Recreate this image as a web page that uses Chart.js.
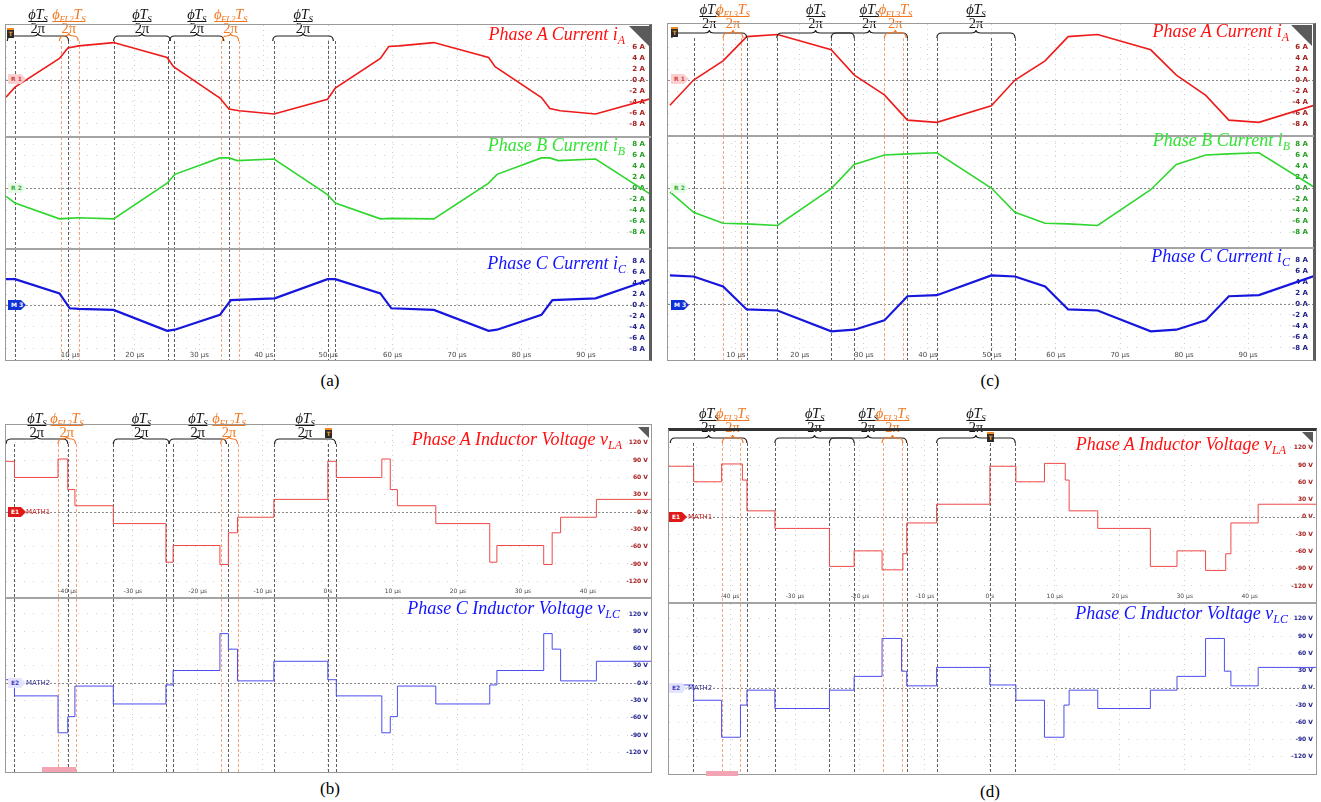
<!DOCTYPE html>
<html><head><meta charset="utf-8">
<title>Phase currents and inductor voltages</title>
<script src="https://cdn.jsdelivr.net/npm/chart.js@4.4.1/dist/chart.umd.min.js"></script>
<style>
html,body{margin:0;padding:0;background:#fff}
body{width:1321px;height:802px;position:relative;overflow:hidden;font-family:"Liberation Serif","Times New Roman",serif}
.sub{position:absolute}
.sub canvas{display:block}
.frame{position:absolute;box-sizing:border-box;border:1px solid #9a9a9a;pointer-events:none}
.hl{position:absolute;height:2px;background:#a4a4a4}
.ttl{position:absolute;font-style:italic;font-size:18px;line-height:18px;white-space:nowrap}
.ttl sub{font-size:12px;vertical-align:-4px;line-height:0}
.frac{position:absolute;display:flex;flex-direction:column;align-items:center;transform:translateX(-50%);font-size:14.5px;white-space:nowrap}
.frac .num{font-style:italic;border-bottom:1px solid currentColor;line-height:12px;padding:0 0 1px;letter-spacing:-0.3px}
.frac .den{line-height:12px}
.frac sub{font-size:9px;vertical-align:-3px;line-height:0}
.blk{color:#151515}.org{color:#f07820}
.cap{position:absolute;font-size:17px;transform:translateX(-50%)}
.tag{position:absolute;font:bold 6px "DejaVu Sans",sans-serif;line-height:10px;height:10px;padding-left:3px;width:15px;clip-path:polygon(0 0,72% 0,100% 50%,72% 100%,0 100%)}
.tname{position:absolute;font:7px "DejaVu Sans",sans-serif;line-height:9px}
.trig{position:absolute;width:7px;height:8px;background:#2a2a2a;color:#f0a030;font:bold 6px "DejaVu Sans",sans-serif;text-align:center;line-height:8px;border-top:2px solid #f08a20}
.corner{position:absolute;width:0;height:0;border-top:21px solid #5a5a5a;border-left:21px solid transparent}
.pink{position:absolute;height:5px;background:#f3a4b4}
</style></head><body>
<script>
// ================= DATA (time in µs, current in A, voltage in V) =================
// Panel (a): phase currents
const A_T_IA = [0,1.4,8.3,9.6,11.3,16.7,25.0,26.0,33.2,34.6,36.2,41.6,49.9,51.1,58.1,59.4,61.0,66.4,74.9,75.9,83.1,84.4,86.0,91.5,100.1];
const A_IA   = [-3.15,-1.3,3.9,5.8,6.2,6.8,4.1,2.4,-3.3,-5.3,-5.6,-6.2,-3.5,-1.5,3.9,6.1,6.2,6.8,4.1,2.4,-3.2,-5.2,-5.6,-6.2,-3.4];
const A_T_IB = [0,1.4,8.3,9.6,11.3,16.7,25.0,26.2,33.2,34.6,35.9,41.6,49.9,51.1,58.1,59.8,66.4,74.9,76.2,83.1,84.4,85.7,91.5,100.1];
const A_IB   = [-1.5,-2.7,-5.6,-5.5,-5.4,-5.6,0.9,2.5,5.5,5.5,5.0,5.3,-1.2,-2.7,-5.6,-5.5,-5.6,0.9,2.5,5.5,5.5,5.0,5.3,-1.2];
const A_T_IC = [0,1.4,8.3,9.9,11.3,16.7,25.0,26.2,33.2,34.9,41.7,49.9,51.1,58.1,59.8,66.4,74.9,76.2,83.1,84.8,91.5,100.1];
const A_IC   = [4.7,4.7,2.1,-0.6,-0.7,-0.9,-4.7,-4.5,-1.8,0.9,1.2,4.7,4.7,2.1,-0.6,-0.9,-4.7,-4.5,-1.8,0.9,1.2,4.7];
const A_VL_BLACK  = [1.4,9.6,16.7,25.1,26.0,34.6,41.6,49.9,51.1];
const A_VL_ORANGE = [8.5,11.3,33.4,36.2];
const A_BRACE_K = [[0.2,9.7],[16.7,25.5],[25.4,33.8],[41.4,50.8]];
const A_BRACE_O = [[8.3,11.2],[33.6,36.1]];

// Panel (c): phase currents
const C_T  = [-0.3,3.4,8.0,11.7,16.5,24.9,28.5,33.2,36.8,41.4,49.9,53.6,58.3,61.9,66.5,74.8,78.8,83.4,87.0,91.7,100.3];
const C_IA = [-4.6,0,3.5,7.9,8.3,5.5,0.9,-2.7,-7.3,-7.7,-4.7,0,3.5,7.9,8.3,5.5,0.9,-2.8,-7.3,-7.7,-4.6];
const C_IB = [-0.7,-4.4,-6.4,-6.5,-6.8,-0.1,4.3,6.0,6.2,6.4,0,-4.4,-6.4,-6.5,-6.8,-0.3,4.3,6.0,6.2,6.4,0.2];
const C_IC = [5.2,5.0,3.2,-1.0,-1.2,-5.0,-4.7,-3.0,1.4,1.6,5.2,5.0,3.2,-1.0,-1.2,-5.0,-4.7,-3.0,1.4,1.6,5.1];
const C_VL_BLACK  = [3.4,11.7,16.5,24.9,28.5,36.8,41.4,49.9,53.6];
const C_VL_ORANGE = [8.0,10.8,33.2,36.1];
const C_BRACE_K = [[0,11.7],[16.4,28.5],[24.9,36.8],[41.4,53.6]];
const C_BRACE_O = [[8.0,11.1],[33.2,36.6]];

// Panel (b): inductor voltages (step levels start at each time)
const B_T_V = [-49.5,-48.2,-41.5,-40.0,-38.9,-33.0,-24.9,-23.8,-16.6,-15.3,-13.9,-8.3,0,1.3,8.3,9.6,10.7,16.6,24.9,26.0,33.2,34.5,35.8,41.3,49.7];
const B_VA  = [88,60,92,39,11,-20,-87,-58,-91,-36,-9,22,88,60,92,39,11,-20,-87,-58,-91,-36,-9,22,22];
const B_VC  = [6,-22,-86,-58,-5,-36,-3,22,86,59,4,38,6,-22,-86,-58,-5,-36,-3,22,86,59,4,38,38];
const B_VL_BLACK  = [-48.2,-40.0,-33.0,-24.9,-23.8,-15.3,-8.3,0,1.2];
const B_VL_ORANGE = [-41.5,-38.8,-16.5,-13.8];
const B_BRACE_K = [[-49.5,-40.0],[-33.0,-24.4],[-24.4,-15.6],[-8.2,1.2]];
const B_BRACE_O = [[-41.5,-38.8],[-16.5,-13.9]];

// Panel (d): inductor voltages
const D_T_VA = [-49.4,-45.6,-41.3,-38.1,-37.4,-33.1,-24.7,-20.9,-16.6,-13.4,-12.8,-8.2,0,4.0,8.4,11.6,12.2,16.6,24.7,28.8,33.2,36.3,37.1,41.3,50.2];
const D_VA   = [88,61,92,64,10.5,-20,-86,-59,-92,-64,-10.5,22,88,61,93,64,10.5,-20,-86,-59,-93,-64,-10.5,22,22];
const D_T_VC = [-49.4,-45.6,-41.3,-38.4,-37.4,-33.1,-24.7,-20.9,-16.6,-13.6,-12.8,-8.2,0,4.0,8.4,11.4,12.2,16.6,24.7,28.8,33.2,36.1,37.1,41.3,50.2];
const D_VC   = [5,-21.6,-86,-30,-4,-36,-4,20,86,29,3.5,35.6,5,-21.6,-86,-30,-4,-36,-4,20,86,29,3.5,35.6,35.6];
const D_VL_BLACK  = [-45.7,-37.4,-33.1,-24.7,-20.9,-12.8,-8.2,0,3.9];
const D_VL_ORANGE = [-41.3,-38.4,-16.5,-13.6];
const D_BRACE_K = [[-49.2,-37.4],[-33.1,-20.9],[-24.7,-12.8],[-8.2,3.9]];
const D_BRACE_O = [[-41.2,-38.0],[-16.6,-13.4]];

// Tick labels
const TICK_IA = [-8,-6,-4,-2,0,2,4,6];
const TICK_I  = [-8,-6,-4,-2,0,2,4,6,8];
const TICK_V  = [-120,-90,-60,-30,0,30,60,90,120];
const XTICK_AC = [10,20,30,40,50,60,70,80,90];
const XTICK_BD = [-40,-30,-20,-10,0,10,20,30,40];

// ================= DRAWING =================
Chart.defaults.font.family = 'DejaVu Sans';

function drawBrace(ctx,x1,x2,yb){
  const xm=(x1+x2)/2, r=Math.min(5,(x2-x1)/4);
  ctx.beginPath();
  ctx.moveTo(x1,yb+5);
  ctx.quadraticCurveTo(x1,yb,x1+r,yb);
  ctx.lineTo(xm-r,yb);
  ctx.quadraticCurveTo(xm,yb,xm,yb-3);
  ctx.quadraticCurveTo(xm,yb,xm+r,yb);
  ctx.lineTo(x2-r,yb);
  ctx.quadraticCurveTo(x2,yb,x2,yb+5);
  ctx.stroke();
}

const marksPlugin={
  id:'marks',
  beforeDatasetsDraw(chart,args,o){
    const {ctx,chartArea:a,scales:{x,y}}=chart;
    ctx.save();
    ctx.lineWidth=1;
    const y0=Math.round(y.getPixelForValue(0))+0.5;
    ctx.strokeStyle='#8a8a8a'; ctx.setLineDash([2,2]);
    ctx.beginPath(); ctx.moveTo(a.left,y0); ctx.lineTo(a.right,y0); ctx.stroke();
    ctx.setLineDash([3,2]);
    const top=a.top+(o.vTop||0);
    const vl=(arr,col)=>{ctx.strokeStyle=col;(arr||[]).forEach(v=>{const px=Math.round(x.getPixelForValue(v))+0.5;ctx.beginPath();ctx.moveTo(px,top);ctx.lineTo(px,chart.height);ctx.stroke();});};
    vl(o.black,'#5e5e5e'); vl(o.orange,'#f4a57c');
    ctx.restore();
  },
  afterDatasetsDraw(chart,args,o){
    if(!o.bk) return;
    const {ctx,chartArea:a,scales:{x}}=chart;
    const yb=a.top+o.by;
    ctx.save(); ctx.lineWidth=1.2; ctx.setLineDash([]);
    ctx.strokeStyle='#1e1e1e';
    o.bk.forEach(b=>drawBrace(ctx,x.getPixelForValue(b[0]),x.getPixelForValue(b[1]),yb));
    ctx.strokeStyle='#f07a28';
    o.bo.forEach(b=>drawBrace(ctx,x.getPixelForValue(b[0]),x.getPixelForValue(b[1]),yb));
    ctx.restore();
  }
};
Chart.register(marksPlugin);

const fmtX=v=>v===0?'0 s':v+' µs';

function makeSub(s){
  const d=document.createElement('div'); d.className='sub';
  Object.assign(d.style,{left:s.l+'px',top:s.t+'px',width:s.w+'px',height:s.h+'px'});
  const c=document.createElement('canvas'); c.width=s.w; c.height=s.h;
  c.style.width=s.w+'px'; c.style.height=s.h+'px';
  d.appendChild(c); document.body.appendChild(d);
  const markOpts={black:s.black,orange:s.orange,vTop:s.br?s.br.y+5:0};
  if(s.br){markOpts.bk=s.br.k;markOpts.bo=s.br.o;markOpts.by=s.br.y;}
  const isV=s.unit===' V';
  const chart=new Chart(c,{
    type:'line',
    data:{datasets:s.series.map(q=>({
      data:q.t.map((t,i)=>({x:t,y:q.v[i]})),
      borderColor:q.c,borderWidth:q.w,stepped:q.step?'before':false,
      pointRadius:0,fill:false,tension:0}))},
    options:{
      responsive:false,animation:false,events:[],
      layout:{padding:0},
      plugins:{legend:{display:false},tooltip:{enabled:false},marks:markOpts},
      scales:{
        x:{type:'linear',min:s.xr[0],max:s.xr[1],
          afterBuildTicks:sc=>{sc.ticks=s.xt.map(v=>({value:v}));},
          afterFit:sc=>{sc.paddingLeft=0;sc.paddingRight=0;sc.height=s.band||0;},
          ticks:{display:!!s.band,color:'#4a4a4a',font:{size:isV?6:7},padding:1,maxRotation:0,autoSkip:false,callback:v=>fmtX(v)},
          grid:{drawTicks:false,color:'#cfcfcf',lineWidth:1},
          border:{display:false,dash:[1,4]}},
        y:{type:'linear',position:'right',min:s.yr[0],max:s.yr[1],
          afterBuildTicks:sc=>{sc.ticks=s.yt.map(v=>({value:v}));},
          afterFit:sc=>{sc.width=0;sc.paddingTop=0;sc.paddingBottom=0;},
          ticks:{mirror:true,padding:isV?-3:-6,color:s.tc,font:{size:isV?6:7,weight:'bold'},autoSkip:false,callback:v=>v+s.unit},
          grid:{drawTicks:false,color:'#d4d4d4'},
          border:{display:false,dash:[1,8]}}
      }
    }
  });
  if(s.br){
    const x=chart.scales.x;
    const addFrac=(b,org)=>{
      const f=document.createElement('div');
      f.className='frac '+(org?'org':'blk');
      f.style.left=(s.l+x.getPixelForValue((b[0]+b[1])/2))+'px';
      f.style.top=s.br.ft+'px';
      f.innerHTML=org?'<span class="num">ϕ<sub>'+s.br.fl+'</sub>T<sub>S</sub></span><span class="den">2π</span>'
                     :'<span class="num">ϕT<sub>S</sub></span><span class="den">2π</span>';
      document.body.appendChild(f);
    };
    s.br.k.forEach(b=>addFrac(b,false));
    s.br.o.forEach(b=>addFrac(b,true));
  }
  return chart;
}

const RED='#ee1b1b', GRN='#2fd62f', BLU='#1616dc', VRED='#ef4848', VBLU='#4d4dee';
const TR='#a82020', TG='#22a022', TB='#1c1c8c';

const SUBS=[
 // (a)
 {l:6,t:25,w:645,h:111,band:0,xr:[0,100.1],yr:[-10.2,10],yt:TICK_IA,xt:XTICK_AC,unit:' A',tc:TR,
  series:[{t:A_T_IA,v:A_IA,c:RED,w:1.6}],black:A_VL_BLACK,orange:A_VL_ORANGE,
  br:{k:A_BRACE_K,o:A_BRACE_O,y:11,ft:8,fl:'FL2'}},
 {l:6,t:137,w:645,h:111,band:0,xr:[0,100.1],yr:[-10.9,9.3],yt:TICK_I,xt:XTICK_AC,unit:' A',tc:TG,
  series:[{t:A_T_IB,v:A_IB,c:GRN,w:1.6}],black:A_VL_BLACK,orange:A_VL_ORANGE},
 {l:6,t:249,w:645,h:111,band:10,xr:[0,100.1],yr:[-8.2,10.2],yt:TICK_I,xt:XTICK_AC,unit:' A',tc:TB,
  series:[{t:A_T_IC,v:A_IC,c:BLU,w:2.2}],black:A_VL_BLACK,orange:A_VL_ORANGE},
 // (c)
 {l:668,t:24,w:646,h:111,band:0,xr:[-0.6,100.3],yr:[-10,10.2],yt:TICK_IA,xt:XTICK_AC,unit:' A',tc:TR,
  series:[{t:C_T,v:C_IA,c:RED,w:1.6}],black:C_VL_BLACK,orange:C_VL_ORANGE,
  br:{k:C_BRACE_K,o:C_BRACE_O,y:9,ft:3,fl:'FL3'}},
 {l:668,t:136,w:646,h:111,band:0,xr:[-0.6,100.3],yr:[-10.7,9.45],yt:TICK_I,xt:XTICK_AC,unit:' A',tc:TG,
  series:[{t:C_T,v:C_IB,c:GRN,w:1.6}],black:C_VL_BLACK,orange:C_VL_ORANGE},
 {l:668,t:248,w:646,h:112,band:10,xr:[-0.6,100.3],yr:[-8.4,10.2],yt:TICK_I,xt:XTICK_AC,unit:' A',tc:TB,
  series:[{t:C_T,v:C_IC,c:BLU,w:2.2}],black:C_VL_BLACK,orange:C_VL_ORANGE},
 // (b)
 {l:6,t:425,w:645,h:172,band:10,xr:[-49.5,49.7],yr:[-130,151],yt:TICK_V,xt:XTICK_BD,unit:' V',tc:TR,
  series:[{t:B_T_V,v:B_VA,c:VRED,w:1,step:true}],black:B_VL_BLACK,orange:B_VL_ORANGE,
  br:{k:B_BRACE_K,o:B_BRACE_O,y:14,ft:412,fl:'FL2'}},
 {l:6,t:599,w:645,h:173,band:0,xr:[-49.5,49.7],yr:[-154,146],yt:TICK_V,xt:XTICK_BD,unit:' V',tc:TB,
  series:[{t:B_T_V,v:B_VC,c:VBLU,w:1,step:true}],black:B_VL_BLACK,orange:B_VL_ORANGE},
 // (d)
 {l:669,t:430,w:647,h:172,band:10,xr:[-49.4,50.2],yr:[-130.5,151],yt:TICK_V,xt:XTICK_BD,unit:' V',tc:TR,
  series:[{t:D_T_VA,v:D_VA,c:VRED,w:1,step:true}],black:D_VL_BLACK,orange:D_VL_ORANGE,
  br:{k:D_BRACE_K,o:D_BRACE_O,y:8,ft:407,fl:'FL3'}},
 {l:669,t:604,w:647,h:170,band:0,xr:[-49.4,50.2],yr:[-150,146],yt:TICK_V,xt:XTICK_BD,unit:' V',tc:TB,
  series:[{t:D_T_VC,v:D_VC,c:VBLU,w:1,step:true}],black:D_VL_BLACK,orange:D_VL_ORANGE}
];
SUBS.forEach(makeSub);

// ---------- overlays: frames, dividers, titles, markers ----------
function el(cls,css,html){const e=document.createElement('div');e.className=cls;e.style.cssText=css;if(html!==undefined)e.innerHTML=html;document.body.appendChild(e);return e;}
// frames
el('frame','left:5px;top:24px;width:647px;height:337px;border-right:3px solid #5d5d5d');
el('frame','left:667px;top:23px;width:649px;height:338px;border-right:3px solid #5d5d5d');
el('frame','left:5px;top:424px;width:647px;height:349px');
el('frame','left:668px;top:428px;width:649px;height:347px;border-top:3px solid #333');
// dividers
el('hl','left:6px;top:136px;width:645px');
el('hl','left:6px;top:248px;width:645px');
el('hl','left:668px;top:135px;width:646px');
el('hl','left:668px;top:247px;width:646px');
el('hl','left:6px;top:597px;width:645px');
el('hl','left:669px;top:602px;width:647px');
// titles
const TITLES=[
 ['Phase A Current i<sub>A</sub>','#ff1010',625,25],
 ['Phase B Current i<sub>B</sub>','#33e333',625,136],
 ['Phase C Current i<sub>C</sub>','#1414ff',626,254],
 ['Phase A Current i<sub>A</sub>','#ff1010',1289,22],
 ['Phase B Current i<sub>B</sub>','#33e333',1290,131],
 ['Phase C Current i<sub>C</sub>','#1414ff',1290,247],
 ['Phase A Inductor Voltage v<sub>LA</sub>','#ff1010',622,430],
 ['Phase C Inductor Voltage v<sub>LC</sub>','#1414ff',620,599],
 ['Phase A Inductor Voltage v<sub>LA</sub>','#ff1010',1286,435],
 ['Phase C Inductor Voltage v<sub>LC</sub>','#1414ff',1288,604]
];
TITLES.forEach(t=>el('ttl','right:'+(1321-t[2])+'px;top:'+t[3]+'px;color:'+t[1],t[0]));
// captions
el('cap','left:330px;top:371px','(a)');
el('cap','left:330px;top:779px','(b)');
el('cap','left:990px;top:371px','(c)');
el('cap','left:990px;top:782px','(d)');
// channel tags
[[8,0],[671,0]].forEach(p=>{
  el('tag','left:'+p[0]+'px;top:74px;background:#fbd0d0;color:#d04040','R 1');
  el('tag','left:'+p[0]+'px;top:183px;background:#e6fbe6;color:#33aa33','R 2');
  el('tag','left:'+p[0]+'px;top:300px;background:#1030d8;color:#fff','M 3');
});
el('tag','left:8px;top:507px;background:#e01818;color:#fff','E1');
el('tname','left:26px;top:508px;color:#c02020','MATH1');
el('tag','left:8px;top:678px;background:#e4e4ff;color:#4040c0','E2');
el('tname','left:26px;top:679px;color:#303090','MATH2');
el('tag','left:669px;top:512px;background:#e01818;color:#fff','E1');
el('tname','left:688px;top:513px;color:#c02020','MATH1');
el('tag','left:669px;top:683px;background:#e4e4ff;color:#4040c0','E2');
el('tname','left:688px;top:684px;color:#303090','MATH2');
// trigger markers
el('trig','left:7px;top:28px','T');
el('trig','left:671px;top:27px','T');
el('trig','left:325px;top:428px','T');
el('trig','left:987px;top:432px','T');
// corner icons
el('corner','left:629px;top:26px');
el('corner','left:1291px;top:25px');
el('corner','left:638px;top:427px;border-top-width:11px;border-left-width:11px');
el('corner','left:1302px;top:432px;border-top-width:11px;border-left-width:11px');
// pink bars
el('pink','left:42px;top:767px;width:34px');
el('pink','left:706px;top:771px;width:32px');
</script>
</body></html>
